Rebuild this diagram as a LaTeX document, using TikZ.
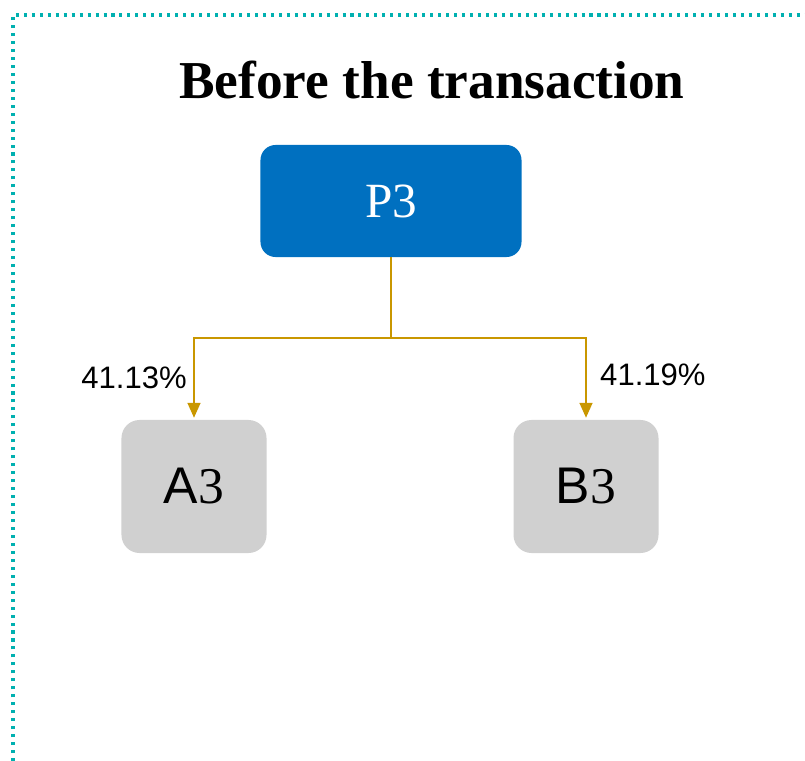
\documentclass[tikz,border=0pt]{standalone}
\usepackage{fontspec}
\setmainfont{Liberation Serif}
\setsansfont{Liberation Sans}
\usetikzlibrary{arrows.meta, positioning, calc}
\definecolor{frameteal}{HTML}{00B0B0}
\definecolor{parentblue}{HTML}{0070C0}
\definecolor{childgray}{HTML}{D0D0D0}
\definecolor{linkgold}{HTML}{C99700}
\tikzset{
  parentbox/.style={fill=parentblue, rounded corners=0.45cm, minimum width=7.83cm,
    minimum height=3.36cm, inner sep=0pt, text=white, font=\fontsize{42}{48}\selectfont},
  childbox/.style={fill=childgray, rounded corners=0.54cm, minimum width=4.35cm,
    minimum height=3.99cm, inner sep=0pt, font=\fontsize{44}{50}\selectfont},
  share/.style={font=\sffamily\fontsize{26.5}{30}\selectfont, inner sep=0pt},
  link/.style={draw=linkgold, line width=1.7pt},
  dotframe/.style={draw=frameteal, line width=2.6pt, dash pattern=on 2.6pt off 4.2pt}
}
\begin{document}
\begin{tikzpicture}[x=0.03cm, y=-0.03cm]
    \useasboundingbox (0,0) rectangle (805,761);
    \draw[dotframe] (13,761) -- (13,15) -- (805,15);
    \node[font=\bfseries\fontsize{45.5}{52}\selectfont]
      (title) at (432,80) {Before the transaction};
    \node[parentbox]
      (P) at (391,201) {P3};
    \node[childbox]
      (A) at (194,486.5) {{\sffamily A}3};
    \node[childbox]
      (B) at (586,486.5) {{\sffamily B}3};
    \coordinate (split) at (391,338);
    \draw[link] (P.south) -- (split);
    \draw[link, -{Triangle[width=11pt, length=12.8pt]}, shorten >=1.7pt]
      (split) -| (A.north);
    \draw[link, -{Triangle[width=11pt, length=12.8pt]}, shorten >=1.7pt]
      (split) -| (B.north);
    \node[share, anchor=east] (shareA) at (187,377.5) {41.13\%};
    \node[share, anchor=west] (shareB) at (600,374.5) {41.19\%};
  \end{tikzpicture}
\end{document}
